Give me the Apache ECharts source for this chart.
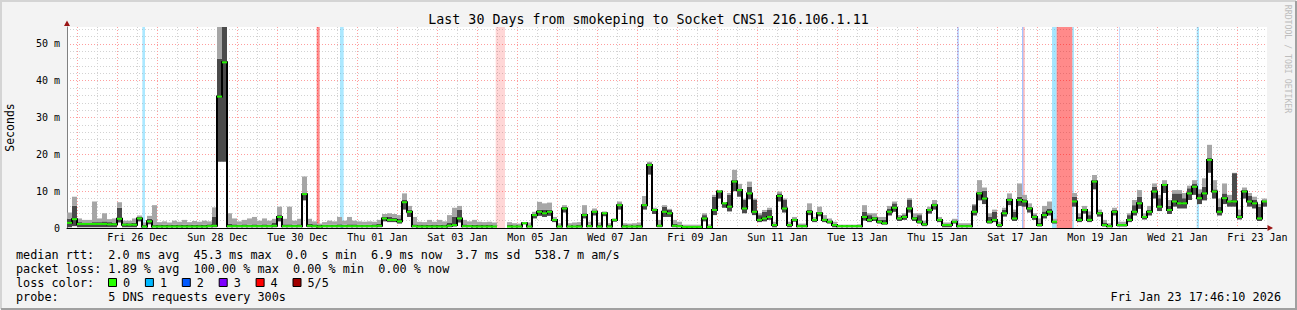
<!DOCTYPE html>
<html><head><meta charset="utf-8">
<script src="https://cdn.jsdelivr.net/npm/echarts@6/dist/echarts.min.js"></script>
<style>html,body{margin:0;padding:0;background:#f3f3f3;}#c{width:1297px;height:310px;}</style>
</head><body><div id="c"></div>
<script>
// ---------------- data ----------------
const TITLE = 'Last 30 Days from smokeping to Socket CNS1 216.106.1.11';
const SPAN_HOURS = 720;          // 30 days, start Wed Dec 24 17:46:10 2025
const STEP_HOURS = 3;            // one sample every 3 hours
const FIRST_MIDNIGHT = 6.2306;   // hours from start to Thu Dec 25 00:00
const Y_MAX = 54.6;              // ms (top of the plot)

const dateLabels = ['Fri 26 Dec','Sun 28 Dec','Tue 30 Dec','Thu 01 Jan','Sat 03 Jan','Mon 05 Jan','Wed 07 Jan',
  'Fri 09 Jan','Sun 11 Jan','Tue 13 Jan','Thu 15 Jan','Sat 17 Jan','Mon 19 Jan','Wed 21 Jan','Fri 23 Jan'];

// median rtt (ms), one value per 3 h
const median = [
1.4,2.4,1.1,1.1,1.1,1.1,1.1,1.1,1.0,1.0,
2.5,0.9,0.9,0.9,2.6,0.4,1.8,0.4,0.4,0.4,
0.4,0.4,0.4,0.4,0.4,0.4,0.4,0.4,0.5,0.6,
35.7,45.0,0.5,0.5,0.5,0.5,0.5,0.5,0.5,0.5,
0.5,0.6,3.0,0.5,0.5,0.5,0.5,9.2,0.6,0.5,
0.4,0.5,0.5,0.5,0.5,0.5,0.5,0.5,0.5,0.5,
0.5,0.5,0.6,2.6,2.2,2.2,1.8,7.0,4.4,0.5,
0.4,0.4,0.4,0.4,0.4,0.4,0.6,0.8,2.6,0.5,
0.5,0.4,0.4,0.4,0.4,0.4,null,null,0.4,0.4,
0.4,1.3,0.4,3.5,4.4,4.0,4.4,2.2,0.4,5.3,
0.4,0.4,0.4,3.5,0.5,4.4,0.4,4.0,0.4,2.2,
6.2,0.4,0.4,0.4,0.4,6.2,17.1,4.9,0.6,4.4,
4.0,0.6,0.5,0.3,0.3,0.3,0.3,2.6,0.3,4.9,
9.9,6.7,5.8,12.6,10.3,5.3,9.4,4.4,2.2,2.6,
3.0,0.8,8.7,5.3,0.8,2.2,0.5,0.5,4.4,2.2,
4.0,2.2,1.7,0.8,0.5,0.5,0.5,0.5,0.5,3.0,
2.2,2.6,1.7,1.3,4.4,5.5,2.6,3.0,5.3,2.6,
1.7,1.0,4.9,6.2,2.2,0.8,0.8,1.7,0.5,0.5,
0.5,4.4,9.4,8.0,1.7,2.2,0.8,4.0,7.6,2.6,
7.6,7.2,5.3,3.0,0.8,3.5,4.4,1.7,null,null,
null,7.2,2.2,4.9,2.2,12.6,4.0,0.8,0.5,4.4,
0.8,0.8,2.2,4.4,6.7,3.0,4.4,9.9,5.8,11.7,
4.9,7.2,6.7,6.7,9.4,11.2,8.1,9.4,18.5,9.9,
4.4,8.1,7.2,7.2,3.0,9.9,7.2,6.7,2.6,7.2
];
// lowest ping (ms)
const smokeMin = [
0.2,0.5,0.2,0.2,0.2,0.2,0.2,0.2,0.2,0.2,
1.5,0.2,0.2,0.2,1.8,0.2,1.0,0.2,0.2,0.2,
0.2,0.2,0.2,0.2,0.2,0.2,0.2,0.2,0.2,0.2,
18,18,0.2,0.2,0.2,0.2,0.2,0.2,0.2,0.2,
0.2,0.2,1.8,0.2,0.2,0.2,0.2,7.5,0.2,0.2,
0.2,0.2,0.2,0.2,0.2,0.2,0.2,0.2,0.2,0.2,
0.2,0.2,0.2,1.8,1.6,1.6,1.2,5.0,3.0,0.2,
0.2,0.2,0.2,0.2,0.2,0.2,0.2,0.4,1.5,0.2,
0.2,0.2,0.2,0.2,0.2,0.2,null,null,0.2,0.2,
0.2,1.0,0.2,2.6,3.3,3.0,3.3,1.6,0.2,4.2,
0.2,0.2,0.2,2.6,0.2,3.4,0.2,3.2,0.2,1.7,
5.0,0.2,0.2,0.2,0.2,5.0,14.5,3.8,0.2,3.0,
3.0,0.2,0.2,0.2,0.2,0.2,0.2,1.8,0.2,3.5,
8.0,5.5,4.5,10.0,8.5,4.0,7.8,3.5,1.6,1.8,
2.2,0.2,7.2,4.2,0.2,1.7,0.2,0.2,3.5,1.6,
3.2,1.6,1.2,0.2,0.2,0.2,0.2,0.2,0.2,2.0,
1.6,1.9,1.2,0.9,3.4,4.4,1.9,2.2,4.2,1.9,
1.2,0.5,3.9,5.0,1.6,0.2,0.2,1.2,0.2,0.2,
0.2,3.4,7.5,6.5,1.2,1.6,0.2,3.1,6.2,1.9,
6.0,5.8,4.2,2.2,0.4,2.6,3.4,1.2,null,null,
null,5.8,1.6,3.9,1.6,10.5,3.1,0.4,0.2,3.4,
0.4,0.4,1.6,3.4,5.2,2.3,3.4,8.0,4.6,9.5,
3.8,5.8,5.3,5.3,7.6,9.0,6.5,7.5,15.0,8.0,
3.4,6.5,5.8,5.8,2.3,8.0,5.8,5.3,1.9,5.8
];
// top of the dense (dark) smoke (ms)
const smokeDark = [
2.5,6.0,1.6,1.5,1.5,1.6,1.6,1.8,1.6,1.5,
5.5,1.3,1.3,1.4,3.0,0.8,2.5,0.8,0.8,0.9,
0.8,0.9,0.8,0.9,0.8,0.9,0.8,0.9,1.0,3.0,
46,60,1.2,1.0,0.9,1.0,0.9,1.0,0.9,1.0,
0.9,1.5,3.5,1.0,1.0,0.9,1.0,9.4,1.2,1.0,
0.8,0.9,0.9,0.9,1.0,0.9,1.0,1.0,0.9,0.9,
0.9,1.0,1.2,3.0,3.0,2.8,2.6,7.6,5.0,1.0,
0.8,0.8,0.9,0.8,0.9,0.8,1.5,3.0,4.9,1.0,
0.9,0.9,0.8,0.8,0.8,0.7,null,null,0.8,0.7,
0.7,1.4,0.7,3.8,5.0,4.9,5.0,2.5,0.7,5.8,
0.7,0.7,0.8,4.0,0.9,4.6,0.8,4.2,0.8,2.4,
6.7,0.8,0.7,0.7,0.8,6.5,17.6,5.2,1.0,5.8,
4.9,1.2,0.9,0.6,0.6,0.6,0.6,3.5,0.6,8.5,
10.0,6.8,9.0,13.0,10.5,7.6,11.2,7.6,3.5,4.4,
4.9,1.2,9.4,7.6,1.2,2.6,0.8,0.8,4.9,2.5,
4.4,2.6,2.0,1.2,0.7,0.7,0.7,0.7,0.7,4.4,
3.5,3.0,2.2,2.2,5.3,6.7,3.0,3.5,7.6,3.0,
3.5,1.5,5.3,6.7,2.6,1.0,1.0,2.0,0.8,0.8,
0.8,6.2,9.9,10.1,3.0,4.4,1.2,4.9,8.1,4.4,
8.5,7.8,5.8,3.5,1.5,4.5,5.3,2.0,null,null,
null,8.5,3.0,5.3,3.5,13.0,4.4,1.5,0.8,4.9,
1.2,1.2,3.5,6.2,8.5,3.3,4.9,11.2,8.1,12.1,
6.0,9.4,9.4,8.1,10.8,12.1,9.4,11.2,19.0,10.5,
5.8,9.4,7.5,14.9,3.5,10.3,8.7,7.6,5.8,7.5
];
// highest ping (ms)
const smokeMax = [
4.2,8.5,2.6,2.2,2.2,7.2,2.6,4.0,2.4,2.6,
7.0,2.0,2.0,2.6,3.4,1.5,3.3,6.2,1.6,1.8,
1.5,2.0,1.7,2.2,1.6,1.9,1.7,2.0,1.8,5.6,
60,60,4.0,2.6,1.8,2.2,2.6,3.0,2.0,2.6,
2.0,2.5,5.8,2.5,5.8,2.0,2.5,14.0,2.5,1.8,
1.2,1.6,2.0,1.8,3.0,2.0,3.0,2.0,1.8,1.7,
1.8,1.7,2.2,3.8,4.0,3.8,3.5,9.4,6.0,3.0,
1.7,1.6,2.2,1.7,2.2,1.8,3.5,5.5,6.0,2.2,
1.8,2.2,1.7,1.6,1.7,1.5,null,null,1.6,1.3,
1.2,1.6,1.5,4.4,7.1,6.7,6.9,3.0,1.3,6.2,
1.3,1.5,1.6,6.2,1.7,5.3,1.5,4.5,1.3,2.6,
7.2,1.3,1.2,1.3,1.5,8.7,18.0,5.5,2.2,6.2,
5.2,2.2,1.7,0.9,0.9,0.9,0.9,4.0,1.0,9.0,
10.3,7.0,9.5,15.8,12.0,8.0,12.6,8.0,4.0,4.9,
5.5,1.7,9.9,8.0,1.7,3.0,1.2,1.2,6.7,3.0,
5.8,3.5,2.6,1.7,0.9,0.9,0.9,0.9,1.0,6.2,
4.0,4.0,3.0,3.0,6.0,7.2,3.5,4.0,8.1,4.0,
4.0,2.0,5.8,7.6,3.0,1.5,1.5,2.5,1.3,1.3,
1.3,6.5,13.0,11.0,4.0,5.0,1.7,5.5,9.4,5.0,
12.1,9.0,6.7,4.0,2.6,6.0,7.2,2.5,null,null,
null,9.5,4.0,6.0,4.5,14.4,5.0,2.2,1.3,5.5,
1.7,1.7,4.0,7.6,10.3,4.0,6.0,12.1,9.0,13.0,
7.6,10.3,10.3,9.5,11.5,13.0,10.5,13.5,22.6,13.0,
8.0,12.1,9.0,15.0,5.0,11.0,9.5,8.5,6.5,8.0
];

// packet loss periods (hours from start), loss class (0..5) and share of the interval
const lossStart = [45.2, 149.8, 163.8, 257.2, 534.2, 573.0, 573.8, 591.0, 593.8, 603.2, 631.2, 677.8];
const lossEnd   = [46.8, 151.6, 166.0, 262.8, 535.0, 573.8, 574.6, 593.8, 603.2, 604.2, 631.6, 679.2];
const lossLevel = [1, 4, 1, 4, 2, 2, 4, 1, 4, 1, 2, 1];
const lossShare = [0.33, 0.45, 0.33, 0.16, 0.34, 0.36, 0.3, 0.35, 0.46, 0.33, 0.2, 0.33];

const lossLabels = ['0', '1', '2', '3', '4', '5/5'];
const statsRtt  = 'median rtt:  2.0 ms avg  45.3 ms max  0.0  s min  6.9 ms now  3.7 ms sd  538.7 m am/s';
const statsLoss = 'packet loss: 1.89 % avg  100.00 % max  0.00 % min  0.00 % now';
const lossTitle = 'loss color:';
const probeText = 'probe:       5 DNS requests every 300s';
const stampText = 'Fri Jan 23 17:46:10 2026';
const creditText = 'RRDTOOL / TOBI OETIKER';

// ---------------- styles ----------------
const FONT = 'DejaVu Sans Mono';
const lossColors = ['#26ff00', '#00b8ff', '#0059ff', '#7e00ff', '#ff0000', '#a10000'];
const C_DARK = '#4a4a4a', C_LIGHT = '#a6a6a6', C_GREEN = '#22ee00';
const C_MAJOR = '#ff9e9e', C_MINOR = '#d2d2d2';

// ---------------- derived tables ----------------
const labelTimes = dateLabels.map((_, k) => FIRST_MIDNIGHT + 24 * (1 + 2 * k) + 12);
const gridRows = [];
for (let k = 0; k < 30; k++) {
  gridRows.push([FIRST_MIDNIGHT + 24 * k, 1]);
  gridRows.push([FIRST_MIDNIGHT + 24 * k + 12, 0]);
}
const smokeRows = [], medRows = [];
median.forEach((m, i) => {
  if (m == null) return;
  smokeRows.push([i * STEP_HOURS, (i + 1) * STEP_HOURS, smokeMin[i], smokeDark[i], smokeMax[i]]);
  const prev = (i > 0 && median[i - 1] != null) ? median[i - 1] : -1;
  medRows.push([i * STEP_HOURS, (i + 1) * STEP_HOURS, m, prev]);
});
const lossRows = lossStart.map((s, k) => [s, lossEnd[k], lossLevel[k], lossShare[k]]);
const clampY = v => Math.min(v, Y_MAX);

const chart = echarts.init(document.getElementById('c'), null, { renderer: 'svg', width: 1297, height: 310 });

const graphics = [
  { type: 'polyline', z: 100, shape: { points: [[1, 309], [1, 1], [1296, 1]] }, style: { stroke: '#d4d4d4', lineWidth: 2, fill: null } },
  { type: 'polyline', z: 100, shape: { points: [[1, 309], [1296, 309], [1296, 1]] }, style: { stroke: '#a0a0a0', lineWidth: 2, fill: null } },
  { type: 'text', z: 100, x: 648.5, y: 19, style: { text: TITLE, fontFamily: FONT, fontSize: 13.3, fill: '#000', align: 'center', verticalAlign: 'middle' } },
  { type: 'text', z: 100, x: 10, y: 127.5, rotation: Math.PI / 2, style: { text: 'Seconds', fontFamily: FONT, fontSize: 11.5, fill: '#000', align: 'center', verticalAlign: 'middle' } },
  { type: 'text', z: 100, x: 1288, y: 59, rotation: -Math.PI / 2, style: { text: creditText, fontFamily: FONT, fontSize: 8.2, fill: '#bdbdbd', align: 'center', verticalAlign: 'middle' } },
  { type: 'text', z: 100, x: 16, y: 254.5, style: { text: statsRtt, fontFamily: FONT, fontSize: 11.8, fill: '#000', align: 'left', verticalAlign: 'middle' } },
  { type: 'text', z: 100, x: 16, y: 268.5, style: { text: statsLoss, fontFamily: FONT, fontSize: 11.8, fill: '#000', align: 'left', verticalAlign: 'middle' } },
  { type: 'text', z: 100, x: 16, y: 282.5, style: { text: lossTitle, fontFamily: FONT, fontSize: 11.8, fill: '#000', align: 'left', verticalAlign: 'middle' } },
  { type: 'text', z: 100, x: 16, y: 296.5, style: { text: probeText, fontFamily: FONT, fontSize: 11.8, fill: '#000', align: 'left', verticalAlign: 'middle' } },
  { type: 'text', z: 100, x: 1281, y: 296.5, style: { text: stampText, fontFamily: FONT, fontSize: 11.8, fill: '#000', align: 'right', verticalAlign: 'middle' } },
  { type: 'polygon', z: 100, shape: { points: [[64, 26], [70, 26], [67, 20.5]] }, style: { fill: '#9a1414' } },
  { type: 'polygon', z: 100, shape: { points: [[1267.5, 225], [1267.5, 231], [1273, 228]] }, style: { fill: '#9a1414' } }
];
lossLabels.forEach((lab, k) => {
  const x = 108.5 + k * 36.9;
  graphics.push({ type: 'rect', z: 100, shape: { x: x, y: 278.5, width: 8, height: 8 }, style: { fill: lossColors[k], stroke: '#000', lineWidth: 1 } });
  graphics.push({ type: 'text', z: 100, x: x + 14.5, y: 282.5, style: { text: lab, fontFamily: FONT, fontSize: 11.8, fill: '#000', align: 'left', verticalAlign: 'middle' } });
});

chart.setOption({
  backgroundColor: '#f3f3f3',
  animation: false,
  grid: { left: 67, right: 30, top: 27, bottom: 82, show: true, backgroundColor: '#ffffff', borderWidth: 0, containLabel: false, outerBoundsMode: 'none' },
  xAxis: {
    type: 'value', min: 0, max: SPAN_HOURS, z: 10,
    axisLine: { show: true, lineStyle: { color: '#000', width: 1 } },
    axisTick: { show: false }, splitLine: { show: false },
    axisLabel: {
      customValues: labelTimes, fontFamily: FONT, fontSize: 10, color: '#000', margin: 4,
      showMinLabel: true, showMaxLabel: true, hideOverlap: false,
      formatter: v => { let best = 0; labelTimes.forEach((t, k) => { if (Math.abs(t - v) < Math.abs(labelTimes[best] - v)) best = k; }); return dateLabels[best]; }
    }
  },
  yAxis: [
    {
      type: 'value', min: 0, max: Y_MAX, interval: 10, z: 1,
      axisLine: { show: true, lineStyle: { color: '#808080', width: 1 } },
      axisTick: { show: false },
      splitLine: { show: true, showMinLine: false, showMaxLine: false, lineStyle: { color: C_MAJOR, type: [1, 2], width: 1 } },
      axisLabel: { fontFamily: FONT, fontSize: 10, color: '#000', margin: 7, showMaxLabel: false,
        formatter: v => (v % 10 !== 0 ? '' : (v === 0 ? '0' : v + ' m')) }
    },
    {
      type: 'value', min: 0, max: Y_MAX, interval: 2, z: 0,
      axisLine: { show: false }, axisTick: { show: false }, axisLabel: { show: false },
      splitLine: { show: true, showMinLine: false, showMaxLine: false, lineStyle: { color: C_MINOR, type: [1, 2], width: 1 } }
    }
  ],
  series: [
    { // vertical grid
      type: 'custom', z: 1, silent: true, data: gridRows,
      renderItem: (params, api) => {
        const p = api.coord([api.value(0), 0]), q = api.coord([api.value(0), Y_MAX]);
        const x = Math.round(p[0]) + 0.5;
        return { type: 'line', shape: { x1: x, y1: q[1], x2: x, y2: p[1] },
          style: { stroke: api.value(1) ? C_MAJOR : C_MINOR, lineWidth: 1, lineDash: [1, 2] } };
      }
    },
    { // loss background
      type: 'custom', z: 2, silent: true, data: lossRows,
      renderItem: (params, api) => {
        const a = api.coord([api.value(0), Y_MAX]), b = api.coord([api.value(1), 0]);
        return { type: 'rect', shape: { x: a[0], y: a[1], width: Math.max(b[0] - a[0], 1), height: b[1] - a[1] },
          style: { fill: lossColors[api.value(2)], opacity: api.value(3) } };
      }
    },
    { // smoke
      type: 'custom', z: 3, silent: true, data: smokeRows,
      renderItem: (params, api) => {
        const t0 = api.value(0), t1 = api.value(1);
        const a = api.coord([t0, clampY(api.value(2))]);
        const b = api.coord([t1, clampY(api.value(3))]);
        const c = api.coord([t1, clampY(api.value(4))]);
        return { type: 'group', children: [
          { type: 'rect', shape: { x: a[0], y: b[1], width: b[0] - a[0], height: a[1] - b[1] }, style: { fill: C_DARK } },
          { type: 'rect', shape: { x: a[0], y: c[1], width: b[0] - a[0], height: b[1] - c[1] }, style: { fill: C_LIGHT } }
        ] };
      }
    },
    { // median: vertical steps
      type: 'custom', z: 4, silent: true, data: medRows,
      renderItem: (params, api) => {
        const prev = api.value(3);
        if (prev < 0) return { type: 'group', children: [] };
        const p = api.coord([api.value(0), clampY(api.value(2))]);
        const q = api.coord([api.value(0), clampY(prev)]);
        const x = Math.round(p[0]);
        return { type: 'line', shape: { x1: x, y1: Math.min(p[1], q[1]) - 1, x2: x, y2: Math.max(p[1], q[1]) + 1 },
          style: { stroke: '#000', lineWidth: 2 } };
      }
    },
    { // median: loss coloured level
      type: 'custom', z: 5, silent: true, data: medRows,
      renderItem: (params, api) => {
        const a = api.coord([api.value(0), clampY(api.value(2))]);
        const b = api.coord([api.value(1), clampY(api.value(2))]);
        return { type: 'rect', shape: { x: a[0], y: a[1] - 1, width: b[0] - a[0], height: 2 }, style: { fill: C_GREEN } };
      }
    }
  ],
  graphic: graphics
});
</script>
</body></html>
